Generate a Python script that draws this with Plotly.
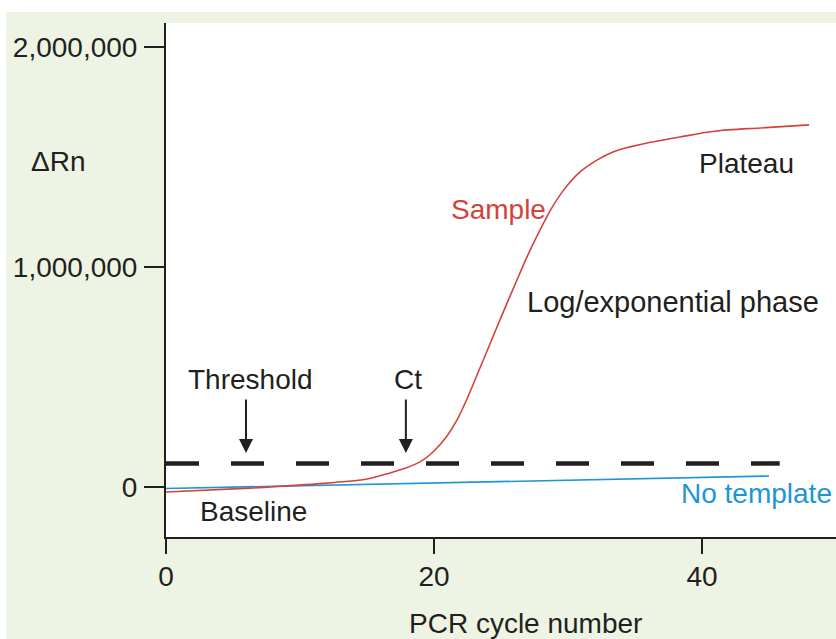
import plotly.graph_objects as go

# ---- data ----
sample_cycles = [0, 6.27, 11.27, 15.0, 16.72, 17.84, 18.96, 19.93, 20.97, 21.72, 22.46,
                 23.21, 23.96, 24.70, 25.45, 26.19, 26.94, 27.69, 28.66, 29.63,
                 30.90, 32.16, 33.36, 34.63, 35.90, 38.36, 41.04, 44.33, 47.99]
sample_rn = [-23000, -5000, 14000, 36000, 64000, 85000, 114000, 159000, 232000, 305000,
             400000, 509000, 618000, 727000, 836000, 941000, 1046000, 1141000,
             1255000, 1346000, 1432000, 1486000, 1523000, 1546000, 1564000,
             1591000, 1618000, 1632000, 1646000]

notemplate_cycles = [0, 45.0]
notemplate_rn = [-7000, 50000]

threshold_cycles = [0, 45.8]
threshold_rn = [107000, 107000]

ct_cycle = 17.9
x_ticks = [0, 20, 40]
y_ticks = [0, 1000000, 2000000]

# ---- styling ----
W, H = 836, 639
ML, MR, MT, MB = 166, 0, 23, 102
PW, PH = W - ML - MR, H - MT - MB
GREEN = "#eef4e3"
DARK = "#231f20"
RED = "#d2433e"
BLUE = "#1d95d6"
FONT = "Liberation Sans, Arial, sans-serif"
FS = 28

def px_x(px):
    return (px - ML) / PW

def px_y(py):
    return (H - MB - py) / PH

fig = go.Figure()
fig.add_trace(go.Scatter(x=threshold_cycles, y=threshold_rn, mode="lines",
                         line=dict(color=DARK, width=4.5, dash="33px,32px"),
                         hoverinfo="skip", showlegend=False))
fig.add_trace(go.Scatter(x=notemplate_cycles, y=notemplate_rn, mode="lines",
                         line=dict(color=BLUE, width=1.6),
                         showlegend=False))
fig.add_trace(go.Scatter(x=sample_cycles, y=sample_rn, mode="lines",
                         line=dict(color=RED, width=1.6, shape="spline", smoothing=0.8),
                         showlegend=False))

ann = []
def label(text, x, y, color=DARK, xref="x", yref="y", size=FS):
    ann.append(dict(text=text, x=x, y=y, xref=xref, yref=yref, showarrow=False,
                    xanchor="center", yanchor="middle",
                    font=dict(family=FONT, size=size, color=color)))

label("ΔRn", px_x(59), px_y(161), xref="paper", yref="paper")
label("PCR cycle number", px_x(525), px_y(623), xref="paper", yref="paper")
label("Sample", 24.8, 1263600, RED)
label("Plateau", 43.3, 1472700)
label("Log/exponential phase", 37.8, 840900, size=29)
label("Threshold", 6.27, 486400)
label("Ct", 18.06, 486400)
label("Baseline", 6.5, -113600)
label("No template", 44.1, -27300, BLUE)

for xv in [5.97, ct_cycle]:
    ann.append(dict(x=xv, y=154500, xref="x", yref="y", text="", showarrow=True,
                    ax=0, ay=-55, arrowhead=2, arrowsize=1.4, arrowwidth=2,
                    arrowcolor=DARK, standoff=0))

fig.update_layout(
    width=W, height=H,
    margin=dict(l=ML, r=MR, t=MT, b=MB, pad=0),
    paper_bgcolor=GREEN, plot_bgcolor="white",
    font=dict(family=FONT, size=FS, color=DARK),
    annotations=ann,
    shapes=[
        dict(type="rect", xref="paper", yref="paper", layer="below",
             x0=px_x(0), x1=px_x(W), y0=px_y(12), y1=px_y(0),
             fillcolor="white", line=dict(width=0)),
        dict(type="rect", xref="paper", yref="paper", layer="below",
             x0=px_x(0), x1=px_x(6), y0=px_y(H), y1=px_y(0),
             fillcolor="white", line=dict(width=0)),
    ],
)
fig.update_xaxes(range=[0, PW / 13.4], tickvals=x_ticks, ticks="outside", ticklen=15,
                 tickwidth=2, tickcolor=DARK, showline=True, linecolor=DARK, linewidth=2,
                 showgrid=False, zeroline=False, ticklabelstandoff=-2,
                 tickfont=dict(family=FONT, size=FS, color=DARK))
fig.update_yaxes(range=[-50 / 220 * 1e6, (487 - 23) / 220 * 1e6], tickvals=y_ticks,
                 tickformat=",d", ticks="outside", ticklen=20, tickwidth=2, tickcolor=DARK,
                 showline=True, linecolor=DARK, linewidth=2, showgrid=False, zeroline=False,
                 ticklabelstandoff=1,
                 tickfont=dict(family=FONT, size=FS, color=DARK))

fig.write_html("out.html")
